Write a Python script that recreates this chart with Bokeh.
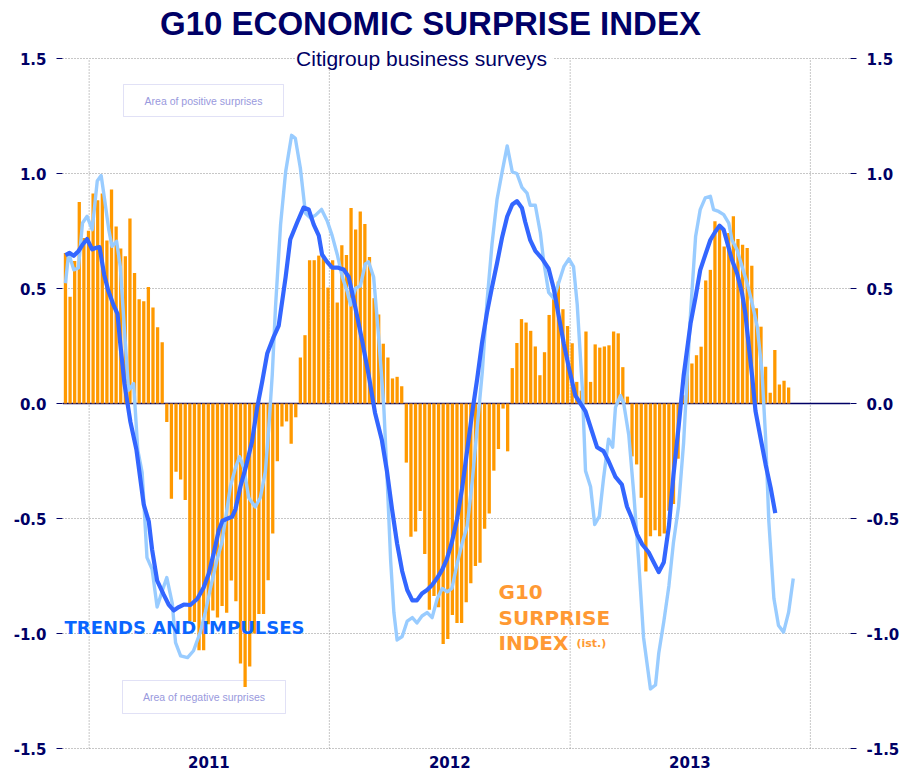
import pandas as pd
from bokeh.plotting import figure
from bokeh.models import (Range1d, FixedTicker, LinearAxis, NumeralTickFormatter,
                          Label, BoxAnnotation, Span)
from bokeh.embed import file_html
from bokeh.resources import INLINE

# ---------------- data ----------------
START = pd.Timestamp("2010-11-26")          # first weekly observation

# G10 surprise index (weekly bars)
surprise = [
    0.654, 0.464, 0.62, 0.876, 0.72, 0.751, 0.913, 0.884, 0.913, 0.709, 0.930,
    0.770, 0.674, 0.640, 0.804, 0.567, 0.453, 0.445, 0.507, 0.417, 0.331, 0.266,
    -0.08, -0.414, -0.297, -0.33, -0.42, -0.946, -0.95, -1.073, -1.073, -0.96,
    -0.90, -0.93, -0.88, -0.91, -0.77, -0.86, -1.13, -1.233, -1.143, -1.0,
    -0.915, -0.915, -0.769, -0.565, -0.251, -0.10, -0.078, -0.175, -0.06,
    0.2, 0.297, 0.623, 0.623, 0.643, 0.64, 0.504, 0.623, 0.439, 0.688, 0.646,
    0.85, 0.757, 0.835, 0.78, 0.637, 0.458, 0.387, 0.26, 0.2, 0.109, 0.116, 0.075,
    -0.257, -0.579, -0.557, -0.467, -0.654, -0.897, -0.837, -0.886, -1.046,
    -1.024, -0.92, -0.954, -0.954, -0.864, -0.781, -0.707, -0.692, -0.545,
    -0.478, -0.292, -0.198, -0.022, -0.208,
    0.154, 0.263, 0.367, 0.352, 0.316, 0.248, 0.123, 0.223, 0.385, 0.46, 0.53,
    0.41, 0.337, 0.262, 0.094, 0.056, 0.313, 0.094, 0.257, 0.243, 0.248, 0.253,
    0.313, 0.305, 0.158, 0.03,
    -0.23, -0.265, -0.41, -0.73, -0.577, -0.551, -0.577, -0.565, -0.466,
    -0.437, -0.24,
    0.036, 0.21, 0.174, 0.21, 0.247, 0.535, 0.581, 0.792, 0.76, 0.683, 0.741,
    0.814, 0.715, 0.69, 0.676, 0.599, 0.414, 0.334, 0.16, 0.047, 0.233, 0.083,
    0.099, 0.07,
]

# trend line (dark blue): week offset from START, value
trend_week = [0, 0.9, 1.8, 2.8, 3.7, 4.7, 5.8, 6.5, 7.4, 8.4, 9.3, 10.4, 11.3, 11.9,
              12.8, 14.1, 15.4, 17.0, 18.1, 18.8, 19.9, 21.3, 22.4, 23.5, 24.6, 25.7,
              27.1, 28.6, 30.0, 31.1, 32.2, 33.3, 34.1, 36.2, 36.9, 38.0, 39.1, 40.5,
              41.6, 42.7, 43.8, 45.2, 46.3, 47.8, 48.8, 50.3, 51.7, 52.8, 53.9, 55.0,
              55.7, 56.8, 57.9, 59.0, 60.4, 61.5, 62.9, 64.4, 65.8, 67.2, 68.7, 69.8,
              70.9, 72.0, 73.1, 74.2, 75.3, 76.3, 77.4, 78.5, 79.6, 80.7, 81.8, 82.8,
              83.9, 85.0, 86.1, 87.2, 88.3, 89.4, 90.4, 91.5, 92.6, 93.7, 94.8, 95.9,
              97.0, 98.0, 99.1, 99.8, 100.9, 102.0, 103.5, 104.9, 106.0, 107.1, 108.2,
              109.3, 110.7, 111.8, 112.9, 114.3, 115.4, 116.8, 117.9, 119.4, 120.8,
              121.9, 123.0, 124.1, 125.2, 126.6, 127.7, 128.8, 129.9, 131.0, 132.0,
              133.1, 134.2, 135.7, 136.8, 137.8, 138.9, 140.0, 141.1, 142.0, 142.9,
              143.7, 144.7, 145.8, 146.9, 147.6, 148.3, 149.1, 149.8, 150.9, 152.0,
              153.1, 154.1]
trend_val = [0.645, 0.655, 0.642, 0.662, 0.69, 0.715, 0.67, 0.676, 0.68, 0.56, 0.49,
             0.43, 0.39, 0.26, 0.087, -0.08, -0.2, -0.44, -0.514, -0.634, -0.77, -0.83,
             -0.874, -0.9, -0.885, -0.874, -0.876, -0.85, -0.8, -0.74, -0.65, -0.55,
             -0.51, -0.492, -0.46, -0.36, -0.28, -0.166, -0.02, 0.094, 0.217, 0.29,
             0.339, 0.55, 0.713, 0.787, 0.852, 0.844, 0.778, 0.73, 0.648, 0.616, 0.591,
             0.591, 0.583, 0.55, 0.42, 0.274, 0.127, -0.04, -0.16, -0.295, -0.46,
             -0.609, -0.729, -0.811, -0.856, -0.856, -0.826, -0.811, -0.789, -0.759,
             -0.722, -0.677, -0.602, -0.504, -0.37, -0.205, -0.04, 0.109, 0.259, 0.394,
             0.506, 0.611, 0.723, 0.813, 0.865, 0.88, 0.85, 0.79, 0.71, 0.664, 0.629,
             0.586, 0.5, 0.379, 0.259, 0.155, 0.034, 0.0, -0.034, -0.121, -0.19, -0.207,
             -0.25, -0.319, -0.353, -0.448, -0.5, -0.569, -0.612, -0.647, -0.69, -0.733,
             -0.69, -0.534, -0.31, -0.103, 0.12, 0.347, 0.464, 0.58, 0.646, 0.711,
             0.748, 0.773, 0.755, 0.697, 0.624, 0.566, 0.478, 0.391, 0.26, 0.114,
             -0.032, -0.149, -0.265, -0.367, -0.477]

# impulse line (light blue): week offset from START, value
impulse_week = [0, 0.7, 1.8, 2.8, 3.7, 4.7, 5.8, 6.9, 7.75, 8.5, 9.4, 10.1, 11.1, 11.9,
                12.8, 13.7, 14.8, 15.7, 16.65, 17.7, 18.8, 19.9, 21.0, 22.0, 23.2, 23.9,
                25.0, 26.5, 27.8, 29.3, 30.4, 31.5, 32.9, 34.0, 35.8, 36.9, 37.8, 38.7,
                39.8, 41.2, 42.3, 43.4, 44.1, 44.9, 45.6, 46.7, 47.8, 49.1, 49.9, 51.0,
                52.1, 53.2, 54.3, 55.6, 56.8, 57.9, 59.0, 60.1, 61.2, 61.9, 63.0, 64.0,
                65.1, 65.8, 66.9, 68.0, 69.1, 69.8, 70.6, 71.3, 72.0, 73.1, 74.2, 75.3,
                76.3, 77.4, 78.5, 79.6, 80.7, 81.8, 82.9, 83.9, 85.0, 86.1, 87.2, 88.3,
                89.4, 90.5, 91.5, 92.6, 93.7, 94.8, 95.9, 97.0, 98.0, 99.1, 100.2, 100.9,
                102.0, 103.1, 103.8, 104.9, 106.0, 107.1, 108.2, 109.3, 110.3, 111.1,
                112.2, 112.9, 114.0, 114.9, 115.9, 116.8, 117.9, 118.8, 119.4, 120.5,
                121.2, 122.3, 123.4, 124.4, 125.5, 127.0, 128.1, 128.8, 129.9, 131.0,
                132.0, 133.1, 134.2, 135.7, 136.8, 137.8, 138.9, 140.0, 140.7, 141.8,
                142.9, 144.0, 144.7, 145.8, 146.9, 148.0, 149.1, 150.2, 151.2, 152.0,
                152.7, 153.8, 154.8, 155.9, 157.0, 158.0]
impulse_val = [0.523, 0.654, 0.581, 0.589, 0.785, 0.814, 0.756, 0.967, 0.991, 0.887,
               0.756, 0.683, 0.705, 0.596, 0.32, 0.058, 0.087, -0.203, -0.3, -0.67,
               -0.72, -0.885, -0.815, -0.757, -0.87, -1.04, -1.097, -1.105, -1.075,
               -0.993, -0.905, -0.8, -0.68, -0.6, -0.362, -0.28, -0.231, -0.28, -0.41,
               -0.45, -0.41, -0.296, -0.117, 0.127, 0.42, 0.778, 1.007, 1.166, 1.153,
               1.023, 0.827, 0.806, 0.819, 0.844, 0.795, 0.73, 0.648, 0.55, 0.485,
               0.428, 0.502, 0.51, 0.607, 0.616, 0.55, 0.289, -0.01, -0.31, -0.684,
               -0.909, -1.028, -1.013, -0.946, -0.931, -0.954, -0.924, -0.909, -0.931,
               -0.849, -0.804, -0.819, -0.804, -0.699, -0.609, -0.534, -0.34, -0.1,
               0.139, 0.439, 0.693, 0.888, 1.007, 1.12, 1.007, 1.0, 0.94, 0.915, 0.862,
               0.862, 0.741, 0.621, 0.483, 0.457, 0.526, 0.595, 0.629, 0.595, 0.431,
               0.069, -0.293, -0.362, -0.526, -0.491, -0.328, -0.155, -0.19, -0.017,
               0.034, 0.0, -0.138, -0.397, -0.672, -1.017, -1.241, -1.224, -1.086,
               -0.948, -0.793, -0.603, -0.448, -0.17, 0.391, 0.726, 0.843, 0.894, 0.901,
               0.843, 0.835, 0.821, 0.784, 0.711, 0.668, 0.595, 0.522, 0.434, 0.332,
               0.143, -0.149, -0.513, -0.848, -0.965, -0.994, -0.907, -0.761]

years = [2011, 2012, 2013]
year_labels = ["2011", "2012", "2013"]
y_ticks = [-1.5, -1.0, -0.5, 0.0, 0.5, 1.0, 1.5]
Y_MIN, Y_MAX = -1.5, 1.5

# ---------------- derived x positions (days since START) ----------------
bar_x = [7 * i for i in range(len(surprise))]
trend_x = [7 * w for w in trend_week]
impulse_x = [7 * w for w in impulse_week]
year_bounds = [(pd.Timestamp(f"{y}-01-01") - START).days for y in years + [years[-1] + 1]]
year_mids = [(pd.Timestamp(f"{y}-07-02") - START).days for y in years]

NAVY = "#000066"
X0, X1 = -4.5, 1193.0
FW = 788
ML = 62
PXU = 230.0                      # pixels per unit on the value axis
TOP_PAD = 58                     # room above the 1.5 line for the titles
YR0 = Y_MIN - 1 / PXU
YR1 = Y_MAX + TOP_PAD / PXU
FH = int(round((YR1 - YR0) * PXU))

p = figure(frame_width=FW, frame_height=FH, x_range=Range1d(X0, X1),
           y_range=Range1d(YR0, YR1), output_backend="svg", toolbar_location=None,
           min_border_left=ML, min_border_right=45, min_border_top=0,
           min_border_bottom=22, background_fill_color="white",
           border_fill_color="white", outline_line_color=None)

# page-pixel -> data helpers for annotation placement
def dx(px):
    return X0 + (px - ML) / FW * (X1 - X0)
def dy(py):
    return YR1 - py / PXU

# axes
ax = p.xaxis[0]
ax.ticker = FixedTicker(ticks=year_mids)
ax.major_label_overrides = {m: lab for m, lab in zip(year_mids, year_labels)}
ax.axis_line_color = None
ax.major_tick_line_color = None
ax.minor_tick_line_color = None
ax.major_tick_out = 0
ax.major_label_standoff = 6
ax.major_label_text_font = "DejaVu Sans"
ax.major_label_text_font_style = "bold"
ax.major_label_text_font_size = "15px"
ax.major_label_text_color = NAVY

def style_y(a):
    a.ticker = FixedTicker(ticks=y_ticks)
    a.formatter = NumeralTickFormatter(format="0.0")
    a.axis_line_color = None
    a.major_tick_line_color = NAVY
    a.major_tick_out = 6
    a.major_tick_in = 0
    a.minor_tick_line_color = None
    a.major_label_standoff = 10
    a.major_label_text_font = "DejaVu Sans"
    a.major_label_text_font_style = "bold"
    a.major_label_text_font_size = "15px"
    a.major_label_text_color = NAVY

style_y(p.yaxis[0])
right = LinearAxis()
style_y(right)
p.add_layout(right, "right")

# grids: horizontal from the axis ticks, vertical year boundaries limited to the value span
GRID = "#8f8f8f"
p.xgrid.visible = False
p.ygrid[0].ticker = FixedTicker(ticks=y_ticks)
p.ygrid[0].grid_line_color = GRID
p.ygrid[0].grid_line_dash = "1 2"
p.ygrid[0].grid_line_width = 1
p.segment(x0=year_bounds, x1=year_bounds, y0=[Y_MIN] * len(year_bounds),
          y1=[Y_MAX] * len(year_bounds), line_color=GRID, line_dash="1 2",
          line_width=1, level="underlay")

p.add_layout(Span(location=0, dimension="width", line_color=NAVY, line_width=1.5,
                  level="underlay"))

# annotation boxes
box_col = "#9c9ce0"
p.add_layout(BoxAnnotation(left=dx(123), right=dx(283), top=dy(84), bottom=dy(116),
                           fill_color="white", fill_alpha=1, line_color=box_col,
                           line_width=1, level="underlay"))
p.add_layout(BoxAnnotation(left=dx(122), right=dx(285), top=dy(680), bottom=dy(713),
                           fill_color="white", fill_alpha=1, line_color=box_col,
                           line_width=1, level="underlay"))

# data glyphs
p.vbar(x=bar_x, top=surprise, bottom=0, width=5, fill_color="#ff9900", line_color=None)
p.line(impulse_x, impulse_val, line_color="#99ccff", line_width=3.4, line_join="round")
p.line(trend_x, trend_val, line_color="#3366ff", line_width=4.2, line_join="round")

# texts
def lab(x, y, text, size, color, font="DejaVu Sans", style="bold", align="left",
        baseline="alphabetic", bg=None):
    l = Label(x=x, y=y, text=text, text_font=font, text_font_size=size,
              text_font_style=style, text_color=color, text_align=align,
              text_baseline=baseline, level="overlay")
    if bg:
        l.background_fill_color = bg
    p.add_layout(l)

lab(dx(430), dy(23), "G10 ECONOMIC SURPRISE INDEX", "33px", NAVY,
    font="Liberation Sans", align="center", baseline="middle")
lab(dx(424), dy(58), "Citigroup  business surveys", "21px", NAVY,
    font="Liberation Sans", style="normal", align="center", baseline="middle", bg="white")
lab(dx(203), dy(100), "Area of positive surprises", "10.5px", "#9999dd",
    font="Liberation Sans", style="normal", align="center", baseline="middle")
lab(dx(203.5), dy(696.5), "Area of negative surprises", "10.5px", "#9999dd",
    font="Liberation Sans", style="normal", align="center", baseline="middle")
lab(dx(64), dy(627), "TRENDS AND IMPULSES", "18px", "#0a66ff")
orange = "#ff9933"
lab(dx(498), dy(591.5), "G10", "20px", orange)
lab(dx(498), dy(617), "SURPRISE", "20px", orange)
lab(dx(498), dy(642.5), "INDEX", "20px", orange)
lab(dx(576), dy(643), "(ist.)", "11px", orange)

open("out.html", "w").write(file_html(p, INLINE))
